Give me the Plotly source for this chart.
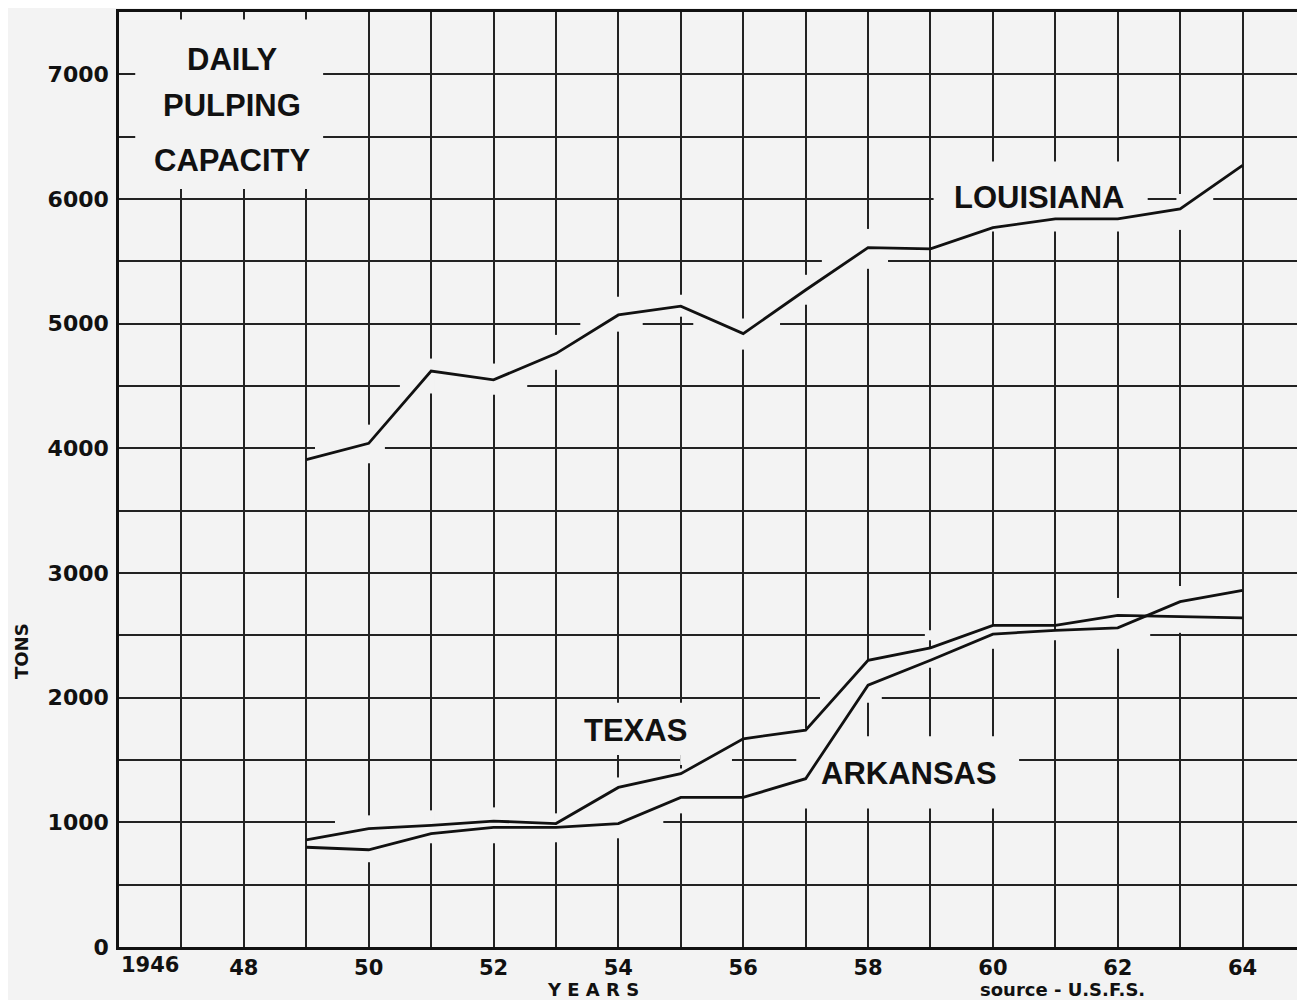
import plotly.graph_objects as go

# ---- data ----
years = [1949, 1950, 1951, 1952, 1953, 1954, 1955, 1956, 1957, 1958, 1959, 1960, 1961, 1962, 1963, 1964]
louisiana = [3910, 4040, 4620, 4550, 4760, 5070, 5140, 4920, 5270, 5610, 5600, 5770, 5840, 5840, 5920, 6270]
texas = [860, 950, 975, 1010, 990, 1280, 1390, 1670, 1740, 2300, 2400, 2580, 2580, 2660, 2650, 2640]
arkansas = [800, 780, 910, 960, 960, 990, 1200, 1200, 1350, 2100, 2300, 2510, 2540, 2560, 2770, 2860]

x_tick_vals = [1948, 1950, 1952, 1954, 1956, 1958, 1960, 1962, 1964]
x_tick_text = ["48", "50", "52", "54", "56", "58", "60", "62", "64"]
y_tick_vals = [0, 1000, 2000, 3000, 4000, 5000, 6000, 7000]
y_tick_text = ["0", "1000", "2000", "3000", "4000", "5000", "6000", "7000"]

BG = "#f3f3f3"
INK = "#111111"

fig = go.Figure()
for vals in (louisiana, texas, arkansas):
    fig.add_trace(go.Scatter(x=years, y=vals, mode="lines",
                             line=dict(color=INK, width=2.8), hoverinfo="skip",
                             showlegend=False))

# ---- drafting gaps in the grid (paper coloured patches under the lines) ----
shapes = []
def box(x0, x1, y0, y1):
    shapes.append(dict(type="rect", xref="x", yref="y", x0=x0, x1=x1, y0=y0, y1=y1,
                       fillcolor=BG, line=dict(width=0), layer="between"))

# label boxes
box(1946.26, 1949.27, 6080, 7440)    # title
box(1959.05, 1962.48, 5740, 6300)    # LOUISIANA
box(1953.15, 1955.2, 1540, 1960)     # TEXAS
box(1956.85, 1960.42, 1110, 1690)    # ARKANSAS

# horizontal-line gaps: (y, x0, x1)
h_gaps = [(4000, 1949.14, 1950.26), (4500, 1950.50, 1952.54),
          (5000, 1953.39, 1954.39), (5000, 1955.20, 1956.59),
          (5500, 1957.26, 1958.32), (6000, 1962.95, 1963.53),
          (1000, 1949.46, 1954.72), (1500, 1954.99, 1955.82),
          (2000, 1957.23, 1958.22), (2500, 1958.91, 1962.52)]
for yv, a, b in h_gaps:
    box(a, b, yv - 40, yv + 40)

# vertical-line gaps: (x, y0, y1)
v_gaps = [(1950, 3880, 4190), (1951, 4440, 4720), (1952, 4430, 4680),
          (1953, 4630, 4910), (1954, 4936, 5216), (1955, 5056, 5232),
          (1956, 4792, 5040), (1957, 5152, 5392), (1958, 5440, 5760),
          (1963, 5752, 6032), (1950, 680, 1056), (1951, 832, 1096),
          (1952, 832, 1120), (1953, 840, 1072), (1954, 872, 1360),
          (1955, 1072, 1432), (1957, 1176, 1752), (1958, 2000, 2296),
          (1959, 2240, 2400), (1960, 2392, 2576), (1962, 2392, 2800),
          (1963, 2520, 2896)]
for xv, a, b in v_gaps:
    box(xv - 0.06, xv + 0.06, a, b)

BIG = dict(family="Liberation Sans, Arial, sans-serif", size=31, color=INK)
SMALL = "DejaVu Sans"
annotations = [
    dict(x=1947.81, y=7120, text="<b>DAILY</b>", showarrow=False, font=BIG),
    dict(x=1947.81, y=6752, text="<b>PULPING</b>", showarrow=False, font=BIG),
    dict(x=1947.81, y=6312, text="<b>CAPACITY</b>", showarrow=False, font=BIG),
    dict(x=1960.75, y=6016, text="<b>LOUISIANA</b>", showarrow=False, font=BIG),
    dict(x=1954.28, y=1736, text="<b>TEXAS</b>", showarrow=False, font=BIG),
    dict(x=1958.66, y=1392, text="<b>ARKANSAS</b>", showarrow=False, font=BIG),
    dict(x=1946, xanchor="left", xref="x", yref="paper", y=-0.0192, yanchor="middle",
         text="<b>1946</b>", showarrow=False,
         font=dict(family=SMALL, size=21, color=INK)),
    dict(x=1953.6, xanchor="center", xref="x", yref="paper", y=-0.0455, yanchor="middle",
         text="<b>Y E A R S</b>", showarrow=False,
         font=dict(family=SMALL, size=18, color=INK)),
    dict(x=1961.12, xanchor="center", xref="x", yref="paper", y=-0.0455, yanchor="middle",
         text="<b>source - U.S.F.S.</b>", showarrow=False,
         font=dict(family=SMALL, size=18, color=INK)),
    dict(x=-0.0818, xanchor="center", xref="paper", y=0.3166, yanchor="middle",
         yref="paper", textangle=-90,
         text="<b>TONS</b>", showarrow=False,
         font=dict(family=SMALL, size=18, color=INK)),
]

# the page adds an 8px body margin; margins compensate so the plot sits where the reference has it
fig.update_layout(
    width=1305, height=1000,
    margin=dict(l=111, r=8, t=1, b=61),
    paper_bgcolor=BG, plot_bgcolor=BG,
    shapes=shapes, annotations=annotations,
    showlegend=False,
)
fig.update_xaxes(range=[1946, 1965], showgrid=True,
                 gridcolor="#222222", gridwidth=1.5, zeroline=False,
                 showline=True, linecolor=INK, linewidth=2.5, mirror=True,
                 tickmode="array", tickvals=x_tick_vals, ticktext=x_tick_text,
                 ticks="", ticklabelstandoff=0,
                 minor=dict(tickmode="linear", tick0=1946, dtick=1, showgrid=True,
                            gridcolor="#222222", gridwidth=1.5),
                 tickfont=dict(family=SMALL, size=21, color=INK, weight="bold"))
fig.update_yaxes(range=[0, 7500], showgrid=True, gridcolor="#222222", gridwidth=1.5,
                 zeroline=False, showline=True, linecolor=INK, linewidth=2.5, mirror=True,
                 tickmode="array", tickvals=y_tick_vals, ticktext=y_tick_text, ticks="",
                 ticklabelstandoff=3,
                 minor=dict(tickmode="linear", tick0=0, dtick=500, showgrid=True,
                            gridcolor="#222222", gridwidth=1.5),
                 tickfont=dict(family=SMALL, size=22, color=INK, weight="bold"))

fig.write_html("out.html")
